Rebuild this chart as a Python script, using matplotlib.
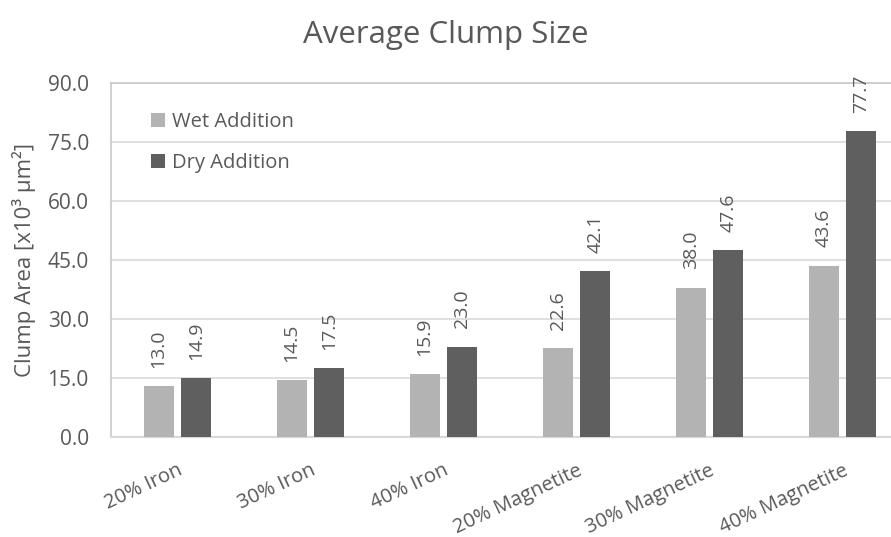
import matplotlib
matplotlib.use("Agg")
import matplotlib.pyplot as plt
import numpy as np

categories = ["20% Iron", "30% Iron", "40% Iron", "20% Magnetite", "30% Magnetite", "40% Magnetite"]
wet_addition = [13.0, 14.5, 15.9, 22.6, 38.0, 43.6]
dry_addition = [14.9, 17.5, 23.0, 42.1, 47.6, 77.7]
series_names = ["Wet Addition", "Dry Addition"]
y_ticks = [0.0, 15.0, 30.0, 45.0, 60.0, 75.0, 90.0]

TEXT = "#595959"
LIGHT = "#b3b3b3"
DARK = "#5f5f5f"
GRID = "#d9d9d9"

plt.rcParams["font.family"] = ["Open Sans", "DejaVu Sans"]

W, H = 891, 537
fig = plt.figure(figsize=(W / 100, H / 100), dpi=100)
left, right_px, top, bottom = 111, 909, 83, 437
ax = fig.add_axes([left / W, (H - bottom) / H, (right_px - left) / W, (bottom - top) / H])

x = np.arange(len(categories))
bw = 0.225
off = 0.142
b1 = ax.bar(x - off, wet_addition, bw, color=LIGHT, label=series_names[0], zorder=3)
b2 = ax.bar(x + off, dry_addition, bw, color=DARK, label=series_names[1], zorder=3)

for bars, vals in ((b1, wet_addition), (b2, dry_addition)):
    for rect, v in zip(bars, vals):
        ax.annotate(f"{v:.1f}", (rect.get_x() + rect.get_width() / 2, v),
                    xytext=(0, 13), textcoords="offset points",
                    rotation=90, ha="center", va="bottom",
                    fontsize=14, color=TEXT)

ax.set_ylim(0, 90)
ax.set_xlim(-0.5, 5.5)
ax.set_yticks(y_ticks)
ax.set_yticklabels([f"{t:.1f}" for t in y_ticks], fontsize=15, color=TEXT)
ax.yaxis.grid(True, color=GRID, linewidth=1.2, zorder=0)
ax.set_axisbelow(True)
ax.tick_params(axis="y", length=0, pad=16)
ax.tick_params(axis="x", length=0, pad=17)

ax.set_xticks(x)
ax.set_xticklabels(categories, rotation=25, ha="right", rotation_mode="anchor",
                   fontsize=14.5, color=TEXT)
for lbl in ax.get_xticklabels():
    lbl.set_va("top")

ax.spines["right"].set_visible(False)
ax.spines["top"].set_color("#c8c8c8")
ax.spines["top"].set_linewidth(1.2)
ax.spines["left"].set_color("#c8c8c8")
ax.spines["left"].set_linewidth(1.2)
ax.spines["bottom"].set_color(GRID)
ax.spines["bottom"].set_linewidth(1.6)

ax.set_ylabel("Clump Area [x10³ µm²]", fontsize=16, color=TEXT, labelpad=8)

leg = ax.legend(loc="upper left", bbox_to_anchor=(0.04, 0.94), frameon=False,
                fontsize=14.5, labelspacing=1.05, handlelength=0.7, handleheight=0.7,
                handletextpad=0.35, borderaxespad=0)
for t in leg.get_texts():
    t.set_color(TEXT)

fig.text(0.5, 1 - 35 / H, "Average Clump Size", ha="center", va="center",
         fontsize=22.5, color=TEXT)

fig.savefig("out.png", dpi=100)
